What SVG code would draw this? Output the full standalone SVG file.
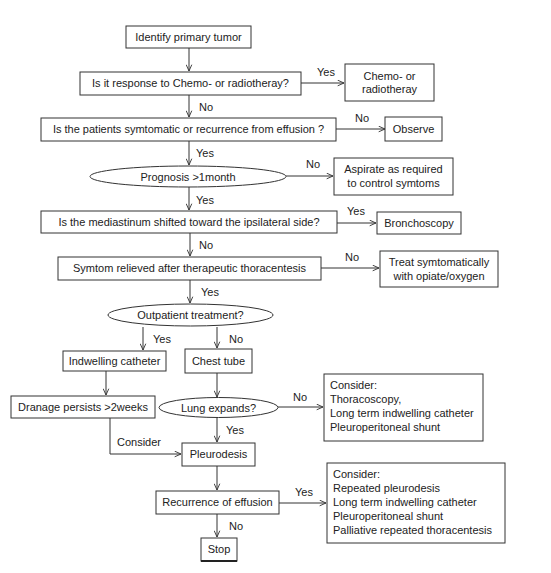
<svg xmlns="http://www.w3.org/2000/svg" width="551" height="573" viewBox="0 0 551 573">
<defs>
<marker id="arr" viewBox="0 0 10 10" refX="10" refY="5" markerWidth="7" markerHeight="7" orient="auto" markerUnits="userSpaceOnUse">
<path d="M1,1 L10,5 L1,9" fill="none" stroke="#333" stroke-width="1.3"/>
</marker>
</defs>
<style>
rect, ellipse { fill: #fff; stroke: #333; stroke-width: 1; }
text { font-family: "Liberation Sans", Arial, sans-serif; font-size: 11px; fill: #222; }
.c { text-anchor: middle; }
.l { stroke: #333; stroke-width: 1; fill: none; }
.a { marker-end: url(#arr); }
</style>
<rect x="0" y="0" width="551" height="573" style="fill:#fff;stroke:none"/>
<g id="connectors">
<line class="l a" x1="189" y1="48" x2="189" y2="71"/>
<line class="l a" x1="301" y1="83" x2="344" y2="83"/>
<line class="l a" x1="189" y1="95" x2="189" y2="117"/>
<line class="l a" x1="336" y1="129" x2="385" y2="129"/>
<line class="l a" x1="189" y1="141" x2="189" y2="165"/>
<line class="l a" x1="286" y1="176" x2="333" y2="176"/>
<line class="l a" x1="189" y1="187" x2="189" y2="210"/>
<line class="l a" x1="337" y1="223" x2="376" y2="223"/>
<line class="l a" x1="190" y1="233" x2="190" y2="256"/>
<line class="l a" x1="321" y1="268" x2="379" y2="268"/>
<line class="l a" x1="190" y1="280" x2="190" y2="303"/>
<line class="l a" x1="143" y1="327" x2="143" y2="350"/>
<line class="l a" x1="217" y1="327" x2="217" y2="348"/>
<line class="l a" x1="106" y1="371" x2="106" y2="395"/>
<line class="l a" x1="217" y1="373" x2="217" y2="397"/>
<line class="l a" x1="278" y1="407" x2="323" y2="407"/>
<line class="l a" x1="217" y1="417" x2="217" y2="442"/>
<polyline class="l a" points="110,418 110,454 181,454"/>
<line class="l a" x1="217" y1="466" x2="217" y2="490"/>
<line class="l a" x1="279" y1="503" x2="326" y2="503"/>
<line class="l a" x1="217" y1="514" x2="217" y2="537"/>
<text x="317" y="76">Yes</text>
<text x="199" y="111">No</text>
<text x="355" y="122">No</text>
<text x="196" y="157">Yes</text>
<text x="306" y="168">No</text>
<text x="196" y="204">Yes</text>
<text x="347" y="215">Yes</text>
<text x="199" y="249">No</text>
<text x="345" y="261">No</text>
<text x="201" y="296">Yes</text>
<text x="153" y="343">Yes</text>
<text x="229" y="343">No</text>
<text x="293" y="401">No</text>
<text x="226" y="434">Yes</text>
<text x="117" y="446">Consider</text>
<text x="295" y="496">Yes</text>
<text x="229" y="530">No</text>
</g>
<g id="n1"><rect x="126" y="26" width="125" height="22"/><text class="c" x="188.5" y="41">Identify primary tumor</text></g>
<g id="n2"><rect x="80" y="72" width="221" height="23"/><text class="c" x="190.5" y="87">Is it response to Chemo- or radiotheray?</text></g>
<g id="n3"><rect x="345" y="64" width="89" height="37"/><text class="c" x="389.5" y="80">Chemo- or</text><text class="c" x="389.5" y="93">radiotheray</text></g>
<g id="n4"><rect x="41" y="118" width="295" height="23"/><text class="c" x="188.5" y="133">Is the patients symtomatic or recurrence from effusion ?</text></g>
<g id="n5"><rect x="385" y="117" width="57" height="24"/><text class="c" x="413.5" y="133">Observe</text></g>
<g id="n6"><ellipse cx="188" cy="176.5" rx="98" ry="10.5"/><text class="c" x="188" y="180.5">Prognosis &gt;1month</text></g>
<g id="n7"><rect x="334" y="158" width="119" height="37"/><text class="c" x="393.5" y="173">Aspirate as required</text><text class="c" x="393.5" y="187">to control symtoms</text></g>
<g id="n8"><rect x="41" y="211" width="296" height="22"/><text class="c" x="189" y="226">Is the mediastinum shifted toward the ipsilateral side?</text></g>
<g id="n9"><rect x="377" y="212" width="84" height="22"/><text class="c" x="419" y="227">Bronchoscopy</text></g>
<g id="n10"><rect x="58" y="257" width="263" height="23"/><text class="c" x="189.5" y="272">Symtom relieved after therapeutic thoracentesis</text></g>
<g id="n11"><rect x="380" y="251" width="118" height="36"/><text class="c" x="439" y="266">Treat symtomatically</text><text class="c" x="439" y="280">with opiate/oxygen</text></g>
<g id="n12"><ellipse cx="190.5" cy="315" rx="82.5" ry="11"/><text class="c" x="190.5" y="319">Outpatient treatment?</text></g>
<g id="n13"><rect x="63" y="351" width="103" height="20"/><text class="c" x="114.5" y="365">Indwelling catheter</text></g>
<g id="n14"><rect x="185" y="349" width="67" height="24"/><text class="c" x="218.5" y="365">Chest tube</text></g>
<g id="n15"><rect x="11" y="396" width="144" height="22"/><text class="c" x="83" y="411">Dranage persists &gt;2weeks</text></g>
<g id="n16"><ellipse cx="218.5" cy="407.5" rx="59.5" ry="10"/><text class="c" x="218.5" y="411.5">Lung expands?</text></g>
<g id="n17"><rect x="324" y="374" width="159" height="67"/><text x="330" y="389">Consider:</text><text x="330" y="403">Thoracoscopy,</text><text x="330" y="417">Long term indwelling catheter</text><text x="330" y="431">Pleuroperitoneal shunt</text></g>
<g id="n18"><rect x="182" y="443" width="73" height="23"/><text class="c" x="218.5" y="458">Pleurodesis</text></g>
<g id="n19"><rect x="156" y="491" width="123" height="23"/><text class="c" x="217.5" y="506">Recurrence of effusion</text></g>
<g id="n20"><rect x="327" y="463" width="178" height="80"/><text x="333" y="478">Consider:</text><text x="333" y="492">Repeated pleurodesis</text><text x="333" y="506">Long term indwelling catheter</text><text x="333" y="520">Pleuroperitoneal shunt</text><text x="333" y="534">Palliative repeated  thoracentesis</text></g>
<g id="n21"><rect x="201" y="538" width="36" height="23"/><line x1="201" y1="561" x2="237" y2="561" style="stroke:#222;stroke-width:2"/><text class="c" x="219" y="553">Stop</text></g>
</svg>
